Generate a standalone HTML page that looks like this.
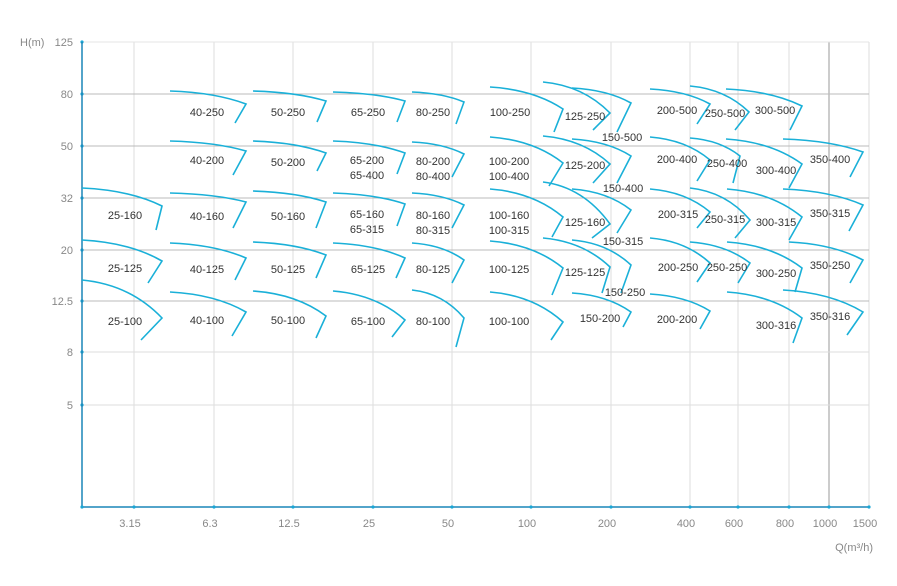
<!DOCTYPE html>
<html><head><meta charset="utf-8"><style>
body{margin:0;background:#fff;}
svg{display:block;font-family:"Liberation Sans",sans-serif;}
</style></head><body>
<svg id="s" width="897" height="586" xmlns="http://www.w3.org/2000/svg"></svg>
<script>
const s=document.getElementById('s');let h='';
const xs=[134,214,293,373,452,531,611,690,738,789,829,869];
const xl=['3.15','6.3','12.5','25','50','100','200','400','600','800','1000','1500'];
xs.forEach(x=>{h+=`<line x1="${x}" y1="42" x2="${x}" y2="507" stroke="${x==829?'#999':'#ddd'}" stroke-width="1"/>`;});
const ys=[42,94,146,198,250,301,352,405];
const yl=['125','80','50','32','20','12.5','8','5'];
ys.forEach((y,i)=>{h+=`<line x1="82" y1="${y}" x2="869" y2="${y}" stroke="${(i==0)?'#e4e4e4':(i>=6?'#ddd':'#bbb')}" stroke-width="1"/>`;
h+=`<text x="73" y="${y+4}" text-anchor="end" font-size="11" fill="#888">${yl[i]}</text>`;
h+=`<circle cx="82" cy="${y}" r="1.6" fill="#1aa7d6"/>`;});
h+=`<text x="20" y="46" font-size="11" fill="#888">H(m)</text>`;
h+=`<line x1="82" y1="42" x2="82" y2="507" stroke="#1a86b8" stroke-width="1.5"/>`;
h+=`<line x1="82" y1="507" x2="869" y2="507" stroke="#1a86b8" stroke-width="1.5"/>`;
h+=`<circle cx="82" cy="507" r="1.6" fill="#1aa7d6"/>`;
xs.forEach((x,i)=>{h+=`<circle cx="${x}" cy="507" r="1.6" fill="#1aa7d6"/>`;
h+=`<text x="${x-4}" y="527" text-anchor="middle" font-size="11" fill="#888">${xl[i]}</text>`;});
h+=`<text x="873" y="551" text-anchor="end" font-size="11" fill="#888">Q(m³/h)</text>`;
const C=[
[170,91,246,104,235,123],[253,91,326,101,317,122],[333,92,405,101,397,122],[412,92,464,102,456,124],
[490,87,563,109,554,132],[543,82,610,113,593,130],[572,88,631,103,617,132],[650,89,710,104,697,124],
[690,86,749,112,735,130],[726,89,802,106,790,130],
[170,141,246,151,233,175],[253,141,326,153,317,171],[333,141,405,153,397,174],[412,142,464,154,452,177],
[490,137,563,163,549,186],[543,136,610,164,593,183],[572,139,631,156,617,183],[650,137,710,160,697,181],
[690,138,740,156,733,183],[726,139,802,164,789,188],[783,139,863,152,850,177],
[82,188,162,206,156,230],[170,193,246,202,233,228],[253,191,326,202,316,228],[333,193,405,204,397,226],
[412,193,464,205,452,228],[490,189,563,217,552,237],[543,182,610,224,592,238],[572,189,631,210,617,233],
[650,189,710,212,697,228],[690,188,750,220,735,238],[727,189,802,217,789,240],[783,189,863,205,849,231],
[82,240,162,261,148,283],[170,243,246,258,235,280],[253,242,326,255,316,278],[333,243,405,258,396,278],
[412,243,464,260,452,283],[490,241,563,268,552,295],[543,238,610,267,602,293],[572,240,631,265,621,293],
[650,238,710,263,697,282],[690,242,750,263,738,283],[727,242,802,268,795,292],[789,242,863,260,850,283],
[82,280,162,318,141,340],[170,292,246,312,232,336],[253,291,326,316,316,338],[333,291,405,320,392,337],
[412,290,464,318,456,347],[490,292,563,322,551,340],[572,293,631,312,623,327],[650,294,710,311,700,329],
[727,292,802,318,793,343],[783,290,863,312,847,335]];
C.forEach(c=>{const[x0,y0,x1,y1,x2,y2]=c;const cx=x0+0.6*(x1-x0),cy=y0+0.12*(y1-y0);
h+=`<path d="M${x0} ${y0}Q${cx} ${cy} ${x1} ${y1}L${x2} ${y2}" fill="none" stroke="#1ab0d8" stroke-width="1.6"/>`;});
const L=[['40-250',207,112],['50-250',288,112],['65-250',368,112],['80-250',433,112],['100-250',510,112],['125-250',585,116],['150-500',622,137],['200-500',677,110],['250-500',725,113],['300-500',775,110],
['40-200',207,160],['50-200',288,162],['65-200',367,160],['65-400',367,175],['80-200',433,161],['80-400',433,176],['100-200',509,161],['100-400',509,176],['125-200',585,165],['150-400',623,188],['200-400',677,159],['250-400',727,163],['300-400',776,170],['350-400',830,159],
['25-160',125,215],['40-160',207,216],['50-160',288,216],['65-160',367,214],['65-315',367,229],['80-160',433,215],['80-315',433,230],['100-160',509,215],['100-315',509,230],['125-160',585,222],['150-315',623,241],['200-315',678,214],['250-315',725,219],['300-315',776,222],['350-315',830,213],
['25-125',125,268],['40-125',207,269],['50-125',288,269],['65-125',368,269],['80-125',433,269],['100-125',509,269],['125-125',585,272],['150-250',625,292],['200-250',678,267],['250-250',727,267],['300-250',776,273],['350-250',830,265],
['25-100',125,321],['40-100',207,320],['50-100',288,320],['65-100',368,321],['80-100',433,321],['100-100',509,321],['150-200',600,318],['200-200',677,319],['300-316',776,325],['350-316',830,316]];
L.forEach(l=>{h+=`<text x="${l[1]}" y="${l[2]+4}" text-anchor="middle" font-size="11" fill="#333">${l[0]}</text>`;});
s.innerHTML=h;
</script>
</body></html>
